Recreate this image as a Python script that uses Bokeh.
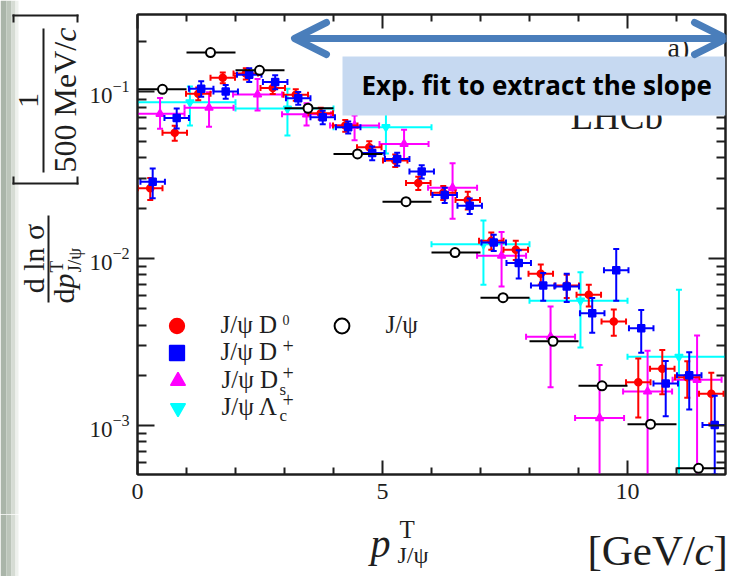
import math

from bokeh.embed import file_html
from bokeh.layouts import column, row
from bokeh.models import (Arrow, BoxAnnotation, ColumnDataSource, CustomJSTickFormatter,
                          FixedTicker, Label, Legend, LegendItem, LinearAxis, LogAxis,
                          OpenHead, Range1d)
from bokeh.plotting import figure
from bokeh.resources import INLINE

# ---------------------------------------------------------------- data
# J/psi D0 (bin half width 0.25 GeV/c)
d0_pt = [0.26, 0.76, 1.24, 1.74, 2.21, 2.76, 3.23, 3.74, 4.24, 4.73, 5.26, 5.73,
         6.24, 6.74, 7.22, 7.72, 8.23, 8.76, 9.21, 9.72, 10.22, 10.71, 11.22, 11.71]
d0_val = [0.0264, 0.0566, 0.097, 0.121, 0.128, 0.105, 0.0955, 0.074, 0.0625, 0.0464,
          0.0386, 0.0283, 0.0248, 0.0224, 0.0128, 0.0113, 0.0081, 0.0069, 0.00607,
          0.0042, 0.00182, 0.00219, 0.00195, 0.00155]
d0_err = [0.0040, 0.0058, 0.0085, 0.0090, 0.0100, 0.0085, 0.0075, 0.0060, 0.0050,
          0.0040, 0.0033, 0.0026, 0.0024, 0.0027, 0.0015, 0.0015, 0.0011, 0.0011,
          0.0009, 0.00075, 0.0007, 0.00065, 0.00048, 0.00052]

# J/psi D+
dp_pt = [0.31, 0.80, 1.30, 1.80, 2.28, 2.81, 3.28, 3.78, 4.30, 4.79, 5.30, 5.80,
         6.27, 6.78, 7.27, 7.78, 8.28, 8.76, 9.28, 9.77, 10.28, 10.78, 11.26, 11.78]
dp_val = [0.0288, 0.0695, 0.104, 0.100, 0.126, 0.114, 0.0912, 0.0702, 0.0611, 0.0428,
          0.0395, 0.0332, 0.024, 0.0207, 0.0125, 0.0094, 0.0069, 0.0068, 0.0047,
          0.0085, 0.00383, 0.00179, 0.0020, 0.00101]
dp_err = [0.0058, 0.0095, 0.011, 0.0095, 0.012, 0.011, 0.008, 0.0065, 0.005, 0.004,
          0.0035, 0.003, 0.0025, 0.0022, 0.0014, 0.0018, 0.0013, 0.0013, 0.0011,
          0.0029, 0.0011, 0.00065, 0.00075, 0.0005]

# J/psi Ds+ (bin half width 0.5 GeV/c); a lower edge of 0 means the bar runs off scale
ds_pt = [0.46, 1.46, 2.45, 3.45, 4.43, 5.44, 6.43, 7.43, 8.43, 9.43, 10.41, 11.42]
ds_val = [0.0735, 0.0800, 0.096, 0.073, 0.0625, 0.0485, 0.0265, 0.0104, 0.00341,
          0.00111, 0.0016, 0.00188]
ds_lo = [0.0598, 0.0615, 0.077, 0.0625, 0.051, 0.039, 0.0173, 0.0068, 0.0017,
         0.0, 0.0, 0.0]
ds_hi = [0.0915, 0.099, 0.119, 0.085, 0.0718, 0.059, 0.0372, 0.0144, 0.00516,
         0.00231, 0.00281, 0.00346]

# J/psi Lambda_c+ (2 GeV/c bins)
lc_pt = [1.07, 3.06, 5.07, 7.06, 9.04, 11.05]
lc_val = [0.0863, 0.079, 0.0612, 0.0122, 0.0056, 0.00258]
lc_lo = [0.0625, 0.0546, 0.0426, 0.00698, 0.00294, 0.0]
lc_hi = [0.107, 0.104, 0.080, 0.0169, 0.00828, 0.0065]
lc_bin_lo = [0, 2, 4, 6, 8, 10]
lc_bin_hi = [2, 4, 6, 8, 10, 12]

# inclusive J/psi (1 GeV/c bins)
jpsi_pt = [0.51, 1.49, 2.49, 3.48, 4.49, 5.48, 6.48, 7.46, 8.48, 9.48, 10.47, 11.45]
jpsi_val = [0.103, 0.171, 0.134, 0.0794, 0.0423, 0.0219, 0.01086, 0.00583, 0.0032,
            0.00173, 0.00102, 0.000555]
jpsi_bin_lo = [0, 1, 2, 3, 4, 5, 6, 7, 8, 9, 10, 11]
jpsi_bin_hi = [1, 2, 3, 4, 5, 6, 7, 8, 9, 10, 11, 12]

x_major = [0, 5, 10]
x_labels = ["0", "5", "10"]
y_major = [1e-3, 1e-2, 1e-1]

# ---------------------------------------------------------------- layout
W, H = 734, 576
LEFT_W = 86                      # panel holding the vertical title
BOTTOM_H = 62                    # panel holding the horizontal title
FL, FR, FT, FB = 134, 725, 14, 474          # plot frame edges on the page
X0, X1 = 0.0, 12.0
Y0, Y1 = 5.1e-4, 0.289

SERIF = "Liberation Serif"
INK = "#1e1e1e"
MID = 0.3375                     # baseline -> em-box centre, in em (Liberation Serif)

p = figure(width=W - LEFT_W, height=H - BOTTOM_H, x_range=Range1d(X0, X1),
           y_range=Range1d(Y0, Y1), y_axis_type="log", output_backend="svg",
           toolbar_location=None, min_border_left=FL - LEFT_W,
           min_border_right=W - FR, min_border_top=FT,
           min_border_bottom=H - BOTTOM_H - FB, background_fill_color="white",
           border_fill_color="white", outline_line_color=INK, outline_line_width=2,
           frame_align=False)
p.xgrid.visible = False
p.ygrid.visible = False


def text_panel(width, height):
    f = figure(width=width, height=height, x_range=Range1d(0, width),
               y_range=Range1d(0, height), x_axis_type=None, y_axis_type=None,
               output_backend="svg", toolbar_location=None, min_border=0,
               outline_line_color=None, background_fill_color="white",
               border_fill_color="white", frame_align=False)
    f.grid.visible = False
    return f


left = text_panel(LEFT_W, H - BOTTOM_H)
bottom = text_panel(W, BOTTOM_H)

# page position (left edge, bottom edge) of each frame
ORIGIN = {id(p): (FL, FB), id(left): (0, H - BOTTOM_H), id(bottom): (0, H)}

x_minor = [v for v in range(1, 12) if v not in x_major]
y_minor = [m * 10.0 ** e for e in (-4, -3, -2, -1) for m in range(2, 10)
           if Y0 <= m * 10.0 ** e <= Y1]
xticker = FixedTicker(ticks=x_major, minor_ticks=x_minor)
yticker = FixedTicker(ticks=y_major, minor_ticks=y_minor)


def style_axis(ax, major, minor, labelled):
    ax.axis_line_color = INK
    ax.axis_line_width = 2
    ax.major_tick_line_color = INK
    ax.minor_tick_line_color = INK
    ax.major_tick_line_width = 2
    ax.minor_tick_line_width = 2
    ax.major_tick_in = major
    ax.major_tick_out = 0
    ax.minor_tick_in = minor
    ax.minor_tick_out = 0
    if not labelled:
        ax.formatter = CustomJSTickFormatter(code="return ''")
        ax.major_label_text_font_size = "0px"
        ax.major_label_text_alpha = 0
        ax.major_label_standoff = 0


xb = p.xaxis[0]
xb.ticker = xticker
xb.major_label_overrides = dict(zip(x_major, x_labels))
xb.major_label_text_font = SERIF
xb.major_label_text_font_size = "24px"
xb.major_label_text_color = INK
xb.major_label_standoff = 9
style_axis(xb, 14, 7, True)

yl = p.yaxis[0]
yl.ticker = yticker
yl.major_label_text_font = SERIF
yl.major_label_text_font_size = "23px"
yl.major_label_text_color = INK
yl.major_label_standoff = 8
style_axis(yl, 17, 9, True)

xt = LinearAxis(ticker=xticker)
style_axis(xt, 14, 7, False)
p.add_layout(xt, "above")
yr = LogAxis(ticker=yticker)
style_axis(yr, 17, 9, False)
p.add_layout(yr, "right")

# ---------------------------------------------------------------- series
FLOOR = Y0 / 4.0   # stand-in for error bars that reach zero on the log scale


def series(x, y, xlo, xhi, ylo, yhi, color, marker, size, fill, caps=True):
    data = dict(x=x, y=y, xlo=xlo, xhi=xhi)
    if ylo is not None:
        data.update(ylo=[v if v > 0 else FLOOR for v in ylo], yhi=yhi)
    src = ColumnDataSource(data)
    p.segment(x0="xlo", y0="y", x1="xhi", y1="y", source=src,
              line_color=color, line_width=2)
    if ylo is not None:
        p.segment(x0="x", y0="ylo", x1="x", y1="yhi", source=src,
                  line_color=color, line_width=2)
    if caps:
        for cx, cy, ang in (("xlo", "y", math.pi / 2), ("xhi", "y", math.pi / 2),
                            ("x", "ylo", 0.0), ("x", "yhi", 0.0)):
            p.scatter(x=cx, y=cy, marker="dash", angle=ang, size=6, source=src,
                      line_color=color, line_width=2)
    return p.scatter(x="x", y="y", marker=marker, size=size, source=src,
                     fill_color=fill, line_color=color, line_width=1.5)


r_lc = series(lc_pt, lc_val, lc_bin_lo, lc_bin_hi, lc_lo, lc_hi,
              "#00ffff", "inverted_triangle", 8, "#00ffff")
r_ds = series(ds_pt, ds_val, [v - 0.5 for v in ds_pt], [v + 0.5 for v in ds_pt],
              ds_lo, ds_hi, "#ff00ff", "triangle", 8, "#ff00ff")
r_d0 = series(d0_pt, d0_val, [v - 0.25 for v in d0_pt], [v + 0.25 for v in d0_pt],
              [v - e for v, e in zip(d0_val, d0_err)],
              [v + e for v, e in zip(d0_val, d0_err)],
              "#ff0000", "circle", 7, "#ff0000")
r_dp = series(dp_pt, dp_val, [v - 0.25 for v in dp_pt], [v + 0.25 for v in dp_pt],
              [v - e for v, e in zip(dp_val, dp_err)],
              [v + e for v, e in zip(dp_val, dp_err)],
              "#0000ff", "square", 7, "#0000ff")
r_jp = series(jpsi_pt, jpsi_val, jpsi_bin_lo, jpsi_bin_hi, None, None,
              "#000000", "circle", 9, "white", caps=False)
r_jp.glyph.line_width = 2


# ---------------------------------------------------------------- text helpers
def put(fig, text, cx, cy, size, angle=0.0, align="left", style="normal",
        font=SERIF, color=INK, mid=MID):
    """Text whose baseline sits at page pixel (cx, cy)."""
    if angle:
        cx -= mid * size
    else:
        cy -= mid * size
    ox, oy = ORIGIN[id(fig)]
    fig.add_layout(Label(x=cx - ox, y=oy - cy, x_units="screen", y_units="screen",
                         text=text, angle=angle, text_align=align,
                         text_baseline="middle", text_font=font,
                         text_font_size=f"{size}px", text_font_style=style,
                         text_color=color))


def bar(fig, cx0, cx1, cy0, cy1, color=INK):
    """Filled rectangle by page pixel edges."""
    ox, oy = ORIGIN[id(fig)]
    fig.add_layout(BoxAnnotation(left=cx0 - ox, right=cx1 - ox, top=oy - cy0,
                                 bottom=oy - cy1, left_units="screen",
                                 right_units="screen", top_units="screen",
                                 bottom_units="screen", fill_color=color,
                                 fill_alpha=1, line_alpha=0))


# ---------------------------------------------------------------- legend
KEY = 37          # legend glyph cell; markers are drawn at 0.4 of it


def key(label, renderer, cx, cy):
    p.add_layout(Legend(items=[LegendItem(label=label, renderers=[renderer])],
                        location=(cx - KEY / 2 - FL, FB - cy - KEY / 2),
                        glyph_width=KEY, glyph_height=KEY, padding=0, margin=0,
                        spacing=0, label_standoff=26, label_text_font=SERIF,
                        label_text_font_size="25px", label_text_color=INK,
                        border_line_alpha=0, background_fill_alpha=0))


key("J/ψ D", r_d0, 173, 325)
key("J/ψ D", r_dp, 173, 352)
key("J/ψ D", r_ds, 174, 380)
key("J/ψ Λ", r_lc, 174, 407)
key("J/ψ", r_jp, 338, 325)

put(p, "0", 279, 324, 14)
put(p, "+", 279, 352, 20)
put(p, "+", 279, 379, 20)
put(p, "s", 276, 395, 17)
put(p, "+", 279, 406, 20)
put(p, "c", 276, 421, 17)

# slide background peeking in at the left edge
for fig, top_y, bot_y in ((left, 0, H - BOTTOM_H), (bottom, H - BOTTOM_H, H)):
    for x0, x1, c in ((0, 6, "#aab5a9"), (6, 11, "#bcc5ba"), (11, 15, "#d6dcd4"),
                      (15, 18, "#eef1ed")):
        bar(fig, x0, x1, top_y, bot_y, color=c)

# ---------------------------------------------------------------- axis titles
up = math.pi / 2
# d ln(sigma) / dp_T
put(left, "d ln σ", 43, 258, 30, angle=up, align="center")
bar(left, 47, 49, 215, 302)
put(left, "d", 73, 303, 30, angle=up)
put(left, "p", 73, 288, 30, angle=up, style="italic")
put(left, "T", 62, 272, 19, angle=up)
put(left, "J/ψ", 80, 272, 19, angle=up)
# [1 / 500 MeV/c]
put(left, "1", 38, 100, 30, angle=up, align="center")
bar(left, 42, 44, 28, 172)
put(left, "500 MeV/", 75, 172, 32, angle=up)
put(left, "c", 75, 172 - 4.083 * 32, 32, angle=up, style="italic")
bar(left, 12, 78, 182, 184)
bar(left, 12, 14, 176, 184)
bar(left, 76, 78, 176, 184)
bar(left, 12, 78, 14, 16)
bar(left, 12, 14, 14, 22)
bar(left, 76, 78, 14, 22)

# p_T of the J/psi
put(bottom, "p", 370, 556, 40, style="italic")
put(bottom, "T", 399, 537, 25)
put(bottom, "J/ψ", 397, 563, 24)
put(bottom, "[GeV/", 587, 565, 43)
put(bottom, "c", 694, 565, 43, style="italic")
put(bottom, "]", 713, 565, 43)

# ---------------------------------------------------------------- annotations
put(p, "a)", 664, 56, 28)
put(p, "LHCb", 567, 128, 37)

p.add_layout(BoxAnnotation(left=339 - FL, right=722 - FL, top=FB - 56, bottom=FB - 115,
                           left_units="screen", right_units="screen",
                           top_units="screen", bottom_units="screen",
                           fill_color="#c6d9f1", fill_alpha=1, line_alpha=0))
put(p, "Exp. fit to extract the slope", 358, 93, 26, style="bold", font="Open Sans",
    color="#000000", mid=0.33)

arrow_color = "#4a7ebb"
p.add_layout(Arrow(x_start=291 - FL, y_start=FB - 38, x_end=723 - FL, y_end=FB - 38,
                   start_units="screen", end_units="screen",
                   line_color=arrow_color, line_width=7,
                   start=OpenHead(size=32, line_color=arrow_color, line_width=7,
                                  line_cap="round", line_join="round"),
                   end=OpenHead(size=32, line_color=arrow_color, line_width=7,
                                line_cap="round", line_join="round")))

page = column(row(left, p, spacing=0), bottom, spacing=0)
open("out.html", "w").write(file_html(page, INLINE))
